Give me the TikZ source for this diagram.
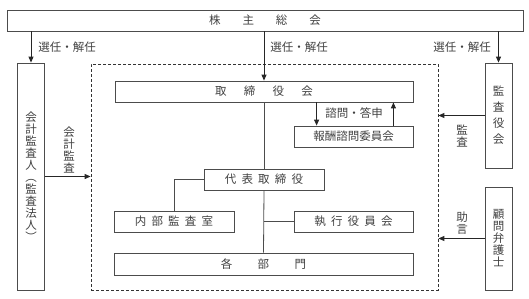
\documentclass[tikz,border=0pt]{standalone}
\usepackage{fontspec}
\setmainfont{Noto Sans CJK JP}
\usetikzlibrary{arrows.meta, positioning}

\begin{document}
\begin{tikzpicture}[
  x=1pt, y=-1pt,
  font=\fontsize{11.5}{12}\selectfont,
  box/.style={rectangle, draw=black!70, line width=0.8pt, inner sep=0pt,
              text=black!75, align=center},
  tate/.style={box, minimum width=27pt},
  lbl/.style={text=black!75, inner sep=0pt, align=center},
  arrow/.style={-{Triangle[length=6pt, width=5pt]}, line width=1pt, black!85},
  link/.style={draw=black!70, line width=0.8pt}
]
\useasboundingbox (0,0) rectangle (529,298);

% top and side boxes
\node (soukai) [box, minimum width=516pt, minimum height=21pt] at (265,20.5)
  {株\hspace{1.9em}主\hspace{1.9em}総\hspace{1.9em}会};
\node (kaikei) [tate, minimum height=227pt, font=\fontsize{11.5}{12}\selectfont] at (31,176.5)
  {会\\計\\監\\査\\人\\︵\\監\\査\\法\\人\\︶};
\node (kansa)  [tate, minimum height=105pt, font=\fontsize{11.5}{16}\selectfont] at (498.5,115.5)
  {監\\査\\役\\会};
\node (komon)  [tate, minimum height=103pt] at (498.5,238.5)
  {顧\\問\\弁\\護\\士};

% company frame
\node (frame) [draw=black!80, dashed, dash pattern=on 3pt off 2pt, line width=0.8pt,
               minimum width=347pt, minimum height=226pt, inner sep=0pt] at (264.5,177) {};
\node (torishimari) [box, minimum width=298pt, minimum height=21pt] at (264,91.5)
  {取\hspace{1.5em}締\hspace{1.5em}役\hspace{1.5em}会};
\node (houshu) [box, minimum width=119pt, minimum height=21pt] at (353.5,136.5)
  {報酬諮問委員会};
\node (daihyo) [box, minimum width=120pt, minimum height=21pt] at (264,179.5)
  {代\hspace{0.45em}表\hspace{0.45em}取\hspace{0.45em}締\hspace{0.45em}役};
\node (naibu)  [box, minimum width=120pt, minimum height=21pt] at (174,221.5)
  {内\hspace{0.45em}部\hspace{0.45em}監\hspace{0.45em}査\hspace{0.45em}室};
\node (shikko) [box, minimum width=119pt, minimum height=21pt] at (353.5,221.5)
  {執\hspace{0.45em}行\hspace{0.45em}役\hspace{0.45em}員\hspace{0.45em}会};
\node (kakubu) [box, minimum width=299pt, minimum height=22pt] at (263.5,264)
  {各\hspace{2.2em}部\hspace{2.2em}門};

% election arrows
\draw [arrow] (soukai.south -| kaikei.north) -- (kaikei.north);
\draw [arrow] (soukai.south -| torishimari.north) -- (torishimari.north);
\draw [arrow] (soukai.south -| kansa.north) -- (kansa.north);
\node (sen1) [lbl] at (67,47)  {選任・解任};
\node (sen2) [lbl] at (299,47) {選任・解任};
\node (sen3) [lbl] at (462,47) {選任・解任};

% inside the frame
\draw [link] (torishimari.south) -- (daihyo.north);
\draw [link] (daihyo.south) -- (kakubu.north);
\draw [link] (daihyo.west) -| (naibu.north);
\draw [link] (shikko.west) -- (shikko.west -| daihyo.south);
\draw [arrow] ([xshift=23pt]houshu.north west |- torishimari.south) -- ([xshift=23pt]houshu.north west);
\draw [arrow] ([xshift=-20pt]houshu.north east) -- ([xshift=-20pt]houshu.north east |- torishimari.south);
\node (shimon) [lbl] at (354,113) {諮問・答申};

% audit and advice
\draw [arrow] (kaikei.east) -- (kaikei.east -| frame.west);
\node (kansa1) [lbl] at (69,150) {会\\計\\監\\査};
\draw [arrow] (kansa.west) -- (kansa.west -| frame.east);
\node (kansa2) [lbl] at (462,136) {監\\査};
\draw [arrow] (komon.west) -- (komon.west -| frame.east);
\node (jogen)  [lbl] at (462,223) {助\\言};
\end{tikzpicture}
\end{document}
